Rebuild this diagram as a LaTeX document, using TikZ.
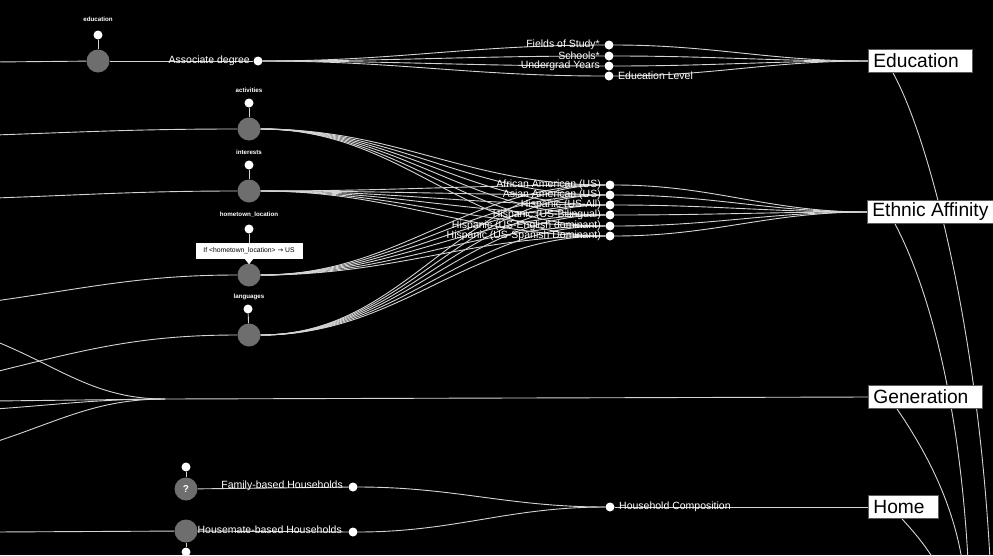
\documentclass[tikz,border=0pt]{standalone}
\usepackage{fontspec}
\setmainfont{Liberation Sans}
\newfontfamily\symfont{DejaVu Sans}
\definecolor{linegray}{HTML}{D4D4D4}
\definecolor{hubgray}{HTML}{6E6E6E}
\definecolor{framegray}{HTML}{5A5A5A}
\pgfdeclarelayer{wires}
\pgfdeclarelayer{backdrop}
\pgfsetlayers{backdrop,wires,main}
\tikzset{
  link/.style={draw=linegray, line width=0.9pt},
  hub/.style={circle, fill=hubgray, minimum size=23pt, inner sep=0pt},
  pin/.style={circle, fill=white, minimum size=9pt, inner sep=0pt},
  leaf/.style={circle, fill=white, minimum size=9pt, inner sep=0pt},
  lbl/.style={text=white, font=\fontsize{10.5}{12}\selectfont, inner sep=0pt},
  tag/.style={text=white, font=\fontsize{6.2}{7}\selectfont\bfseries, inner sep=0pt},
  cat/.style={draw=framegray, fill=white, text=black, font=\fontsize{19.2}{22}\selectfont,
              minimum height=23pt, inner xsep=5pt, inner ysep=0pt, anchor=west, line width=0.8pt},
  tip/.style={fill=white, text=black, font=\fontsize{6.8}{8}\selectfont,
              minimum width=107pt, minimum height=16pt, inner sep=0pt},
  fan/.style={link, out=0, in=180}
}
\newcommand{\padr}{\kern9pt\relax}
\begin{document}
\begin{tikzpicture}[x=1pt, y=-1pt]
\begin{pgfonlayer}{backdrop}
\fill[black] (0,0) rectangle (993,555);
\end{pgfonlayer}
\useasboundingbox (0,0) rectangle (993,555);

% ---------- education ----------
\node[hub] (edu) at (98,61) {};
\node[pin] (edupin) at (98,35) {};
\node[tag] (edutag) at (98,19) {education};
\node[leaf] (assoc) at (258,61) {};
\node[lbl, anchor=east] (assoclbl) at (250,61) {Associate degree};
\node[leaf] (fos) at (609,45) {};
\node[leaf] (sch) at (609,56) {};
\node[leaf] (ugy) at (609,66) {};
\node[leaf] (edl) at (609,76) {};
\node[lbl, anchor=east] (foslbl) at (600,45) {Fields of Study*};
\node[lbl, anchor=east] (schlbl) at (600,56) {Schools*};
\node[lbl, anchor=east] (ugylbl) at (600,66) {Undergrad Years};
\node[lbl, anchor=west] (edllbl) at (618,76) {Education Level};
\node[cat] (Edu) at (868,61) {Education\padr};

% ---------- ethnic affinity ----------
\node[hub] (act) at (249,129) {};
\node[hub] (int) at (249,191) {};
\node[hub] (htl) at (249,275) {};
\node[hub] (lang) at (249,335) {};
\node[pin] (actpin) at (249,103) {};
\node[pin] (intpin) at (249,165) {};
\node[pin] (htlpin) at (249,229) {};
\node[pin] (langpin) at (248,309) {};
\node[tag] (acttag) at (249,90) {activities};
\node[tag] (inttag) at (249,152) {interests};
\node[tag] (htltag) at (249,215) {hometown\_location};
\node[tag] (langtag) at (249,297) {languages};
\node[leaf] (e1) at (610,185) {};
\node[leaf] (e2) at (610,195) {};
\node[leaf] (e3) at (610,205) {};
\node[leaf] (e4) at (610,215) {};
\node[leaf] (e5) at (610,226) {};
\node[leaf] (e6) at (610,236) {};
\node[lbl, anchor=east] (e1lbl) at (601,185) {African American (US)};
\node[lbl, anchor=east] (e2lbl) at (601,195) {Asian American (US)};
\node[lbl, anchor=east] (e3lbl) at (601,205) {Hispanic (US-All)};
\node[lbl, anchor=east] (e4lbl) at (601,215) {Hispanic (US-Bilingual)};
\node[lbl, anchor=east] (e5lbl) at (601,226) {Hispanic (US-English dominant)};
\node[lbl, anchor=east] (e6lbl) at (601,236) {Hispanic (US-Spanish Dominant)};
\node[cat] (Eth) at (867,212) {Ethnic Affinity\padr};

% tooltip on the hometown hub
\node[tip] (htltip) at (249,251) {If <hometown\_location> {\symfont →} US};
\fill[white] ([xshift=-4pt]htltip.south) -- ([xshift=4pt]htltip.south) -- ([yshift=-5pt]htltip.south) -- cycle;

% ---------- generation ----------
\coordinate (genjoin) at (165,399);
\node[cat] (Gen) at (868,397) {Generation\padr};

% ---------- home ----------
\node[hub, text=white, font=\fontsize{10}{12}\selectfont\bfseries] (fam) at (186,489) {?};
\node[hub] (mate) at (186,531) {};
\node[pin] (fampin) at (186,467) {};
\node[pin] (matepin) at (186,552) {};
\node[leaf] (famdot) at (353,487) {};
\node[leaf] (matedot) at (353,532) {};
\node[lbl, anchor=east] (famlbl) at (343,486) {Family-based Households};
\node[lbl, anchor=east] (matelbl) at (342,530) {Housemate-based Households};
\node[leaf] (hhc) at (610,507) {};
\node[lbl, anchor=west] (hhclbl) at (619,507) {Household Composition};
\node[cat] (Home) at (868,507) {Home\padr};

% ---------- free ends outside the frame ----------
\coordinate (inEdu) at (-5,62);
\coordinate (inAct) at (-5,135);
\coordinate (inInt) at (-5,198);
\coordinate (inHtl) at (-5,301);
\coordinate (inLang) at (-5,372);
\coordinate (inG1) at (-5,341);
\coordinate (inG2) at (-5,401);
\coordinate (inG3) at (-5,409);
\coordinate (inG4) at (-5,442);
\coordinate (inMate) at (-5,532);
\coordinate (outEdu) at (990,560);
\coordinate (outEth) at (968,560);
\coordinate (outGen) at (962,560);
\coordinate (outHome) at (934,560);

% ---------- connectors, under the nodes ----------
\begin{pgfonlayer}{wires}
% education
\draw[link] (inEdu) -- (edu);
\draw[link] (edupin) -- (edu);
\draw[link] (edu) -- (assoc);
\foreach \d in {fos,sch,ugy,edl} {
  \draw[fan] (assoc) to (\d);
  \draw[fan] (\d) to (Edu.west);
}
% ethnic affinity
\draw[fan, out=2] (inAct) to (act);
\draw[fan, out=2] (inInt) to (int);
\draw[fan, out=8] (inHtl) to (htl);
\draw[fan, out=14] (inLang) to (lang);
\foreach \p in {act,int,htl,lang} \draw[link] (\p pin) -- (\p);
\foreach \h in {act,int,htl,lang} {
  \foreach \d in {e1,e2,e3,e4,e5,e6} \draw[fan] (\h) to (\d);
}
\foreach \d in {e1,e2,e3,e4,e5,e6} \draw[fan] (\d) to (Eth.west);
% generation
\draw[fan, out=-22] (inG1) to (genjoin);
\draw[link] (inG2) -- (genjoin);
\draw[fan, out=4] (inG3) to (genjoin);
\draw[fan, out=18] (inG4) to (genjoin);
\draw[link] (genjoin) -- (Gen.west);
% home
\draw[link] (fampin) -- (fam);
\draw[link] (matepin) -- (mate);
\draw[link] (inMate) -- (mate);
\draw[link] (fam) -- (famdot);
\draw[link] (mate) -- (matedot);
\draw[fan] (famdot) to (hhc);
\draw[fan] (matedot) to (hhc);
\draw[link] (hhc) -- (Home.west);
% category links running off to the lower right
\draw[link] ([xshift=25pt]Edu.south west) .. controls (930,140) and (978,330) .. (outEdu);
\draw[link] ([xshift=28pt]Eth.south west) .. controls (922,275) and (958,380) .. (outEth);
\draw[link] ([xshift=29pt]Gen.south west) .. controls (925,450) and (952,500) .. (outGen);
\draw[link] ([xshift=34pt]Home.south west) .. controls (914,532) and (925,545) .. (outHome);
\end{pgfonlayer}
\end{tikzpicture}
\end{document}
